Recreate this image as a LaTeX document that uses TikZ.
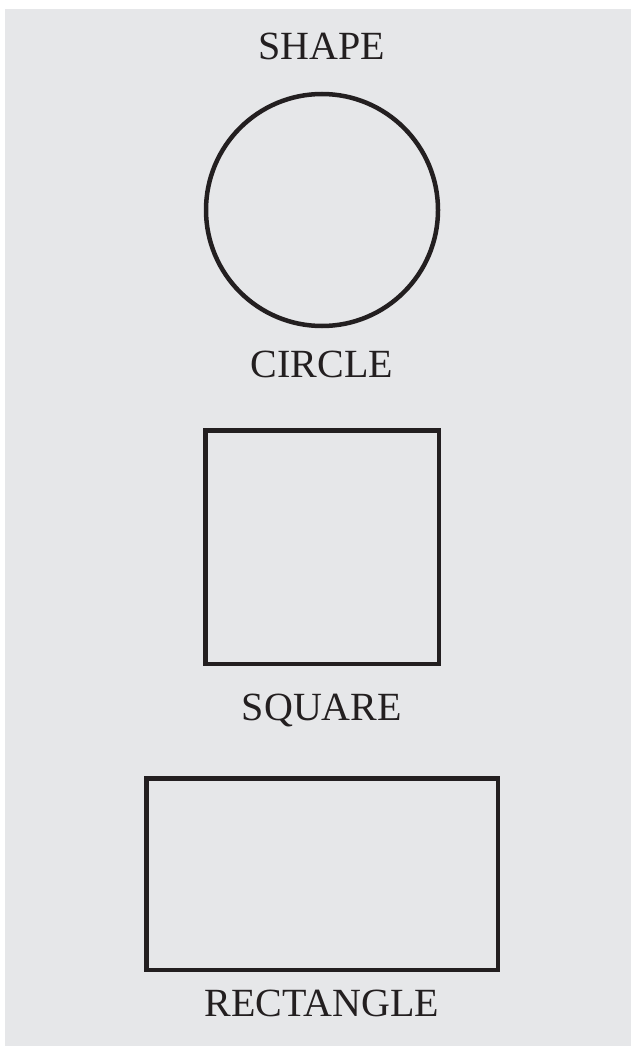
\documentclass[tikz,border=0pt]{standalone}
\usepackage{fontspec}
\setmainfont{Liberation Serif}
\usetikzlibrary{positioning}
\definecolor{panel}{HTML}{E6E7E9}
\definecolor{ink}{HTML}{231F20}

\begin{document}
\begin{tikzpicture}[x=1pt,y=-1pt,
            outline/.style={draw=ink,line width=4.5pt},
            caption/.style={text=ink,font=\fontsize{40}{44}\selectfont,anchor=base,inner sep=0pt}]
  \useasboundingbox (0,0) rectangle (631,1046);
  \fill[panel] (5,9) rectangle (631,1046);
  \node[caption] (title) at (322,60) {SHAPE};
  \node[outline,circle,minimum size=232pt,inner sep=0pt] (circ) at (322,210) {};
  \node[caption] (circlbl) at (322,377) {CIRCLE};
  \node[outline,minimum width=233.5pt,minimum height=233.5pt,inner sep=0pt] (sq) at (322,547) {};
  \node[caption] (sqlbl) at (322,720) {SQUARE};
  \node[outline,minimum width=351.5pt,minimum height=191.5pt,inner sep=0pt] (rect) at (322,874) {};
  \node[caption] (rectlbl) at (322,1016) {RECTANGLE};
\end{tikzpicture}
\end{document}
